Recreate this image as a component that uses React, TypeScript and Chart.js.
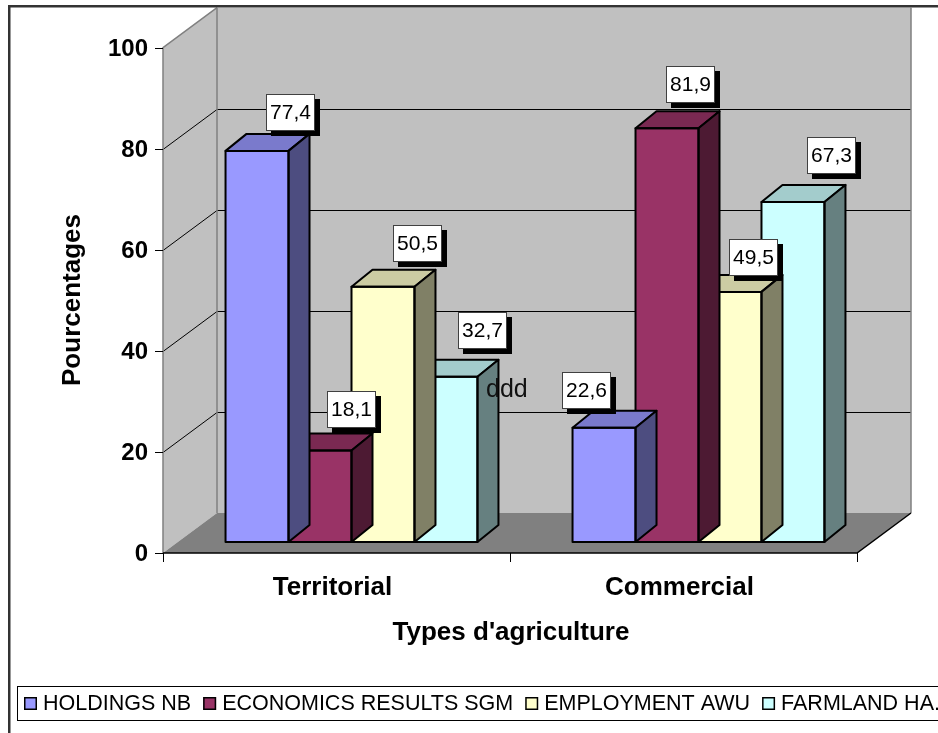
import React, { useEffect, useRef } from "react";
import { Chart, registerables } from "chart.js";

Chart.register(...registerables);

// ---- data ----
const CATEGORIES = ["Territorial", "Commercial"];
const SERIES_NAMES = ["HOLDINGS NB", "ECONOMICS RESULTS SGM", "EMPLOYMENT AWU", "FARMLAND HA."];
const HOLDINGS_NB = [77.4, 22.6];
const ECONOMICS_SGM = [18.1, 81.9];
const EMPLOYMENT_AWU = [50.5, 49.5];
const FARMLAND_HA = [32.7, 67.3];
const Y_TICKS = [0, 20, 40, 60, 80, 100];
const Y_TITLE = "Pourcentages";
const X_TITLE = "Types d'agriculture";
const NOTE_TEXT = "ddd";

// ---- layout / style ----
const W = 938;
const H = 733;
const FONT = '"Liberation Sans", Arial, Helvetica, sans-serif';
const PAD = { left: 163, right: W - 857, top: 47.7, bottom: H - 553 };
const WALL = { dx: 54, dy: -40 }; // depth of the floor / side wall
const BAR_SHIFT = { dx: 15, dy: -11 }; // plane the columns stand in
const BAR_DEPTH = { dx: 21, dy: -17 }; // thickness of each column
// label box offsets: [x from column centre, box bottom from column back-top]
const LABEL_NUDGE = [
  [[33.5, -3], [-17.5, -2]],
  [[31.5, -5.5], [23.5, -8]],
  [[35, -8], [23.5, 1]],
  [[36.5, -11], [38.5, -11]],
];
const FACES = [
  { front: "#9999FF", top: "#7A7ACC", side: "#4D4D80" },
  { front: "#993366", top: "#7A2952", side: "#4D1A33" },
  { front: "#FFFFCC", top: "#CCCCA3", side: "#808066" },
  { front: "#CCFFFF", top: "#A3CCCC", side: "#668080" },
];

const SERIES_VALUES = [HOLDINGS_NB, ECONOMICS_SGM, EMPLOYMENT_AWU, FARMLAND_HA];

function poly(ctx: CanvasRenderingContext2D, pts: number[][]) {
  ctx.beginPath();
  ctx.moveTo(pts[0][0], pts[0][1]);
  for (let i = 1; i < pts.length; i++) ctx.lineTo(pts[i][0], pts[i][1]);
  ctx.closePath();
}

function fmt(v: number) {
  return v.toFixed(1).replace(".", ",");
}

const scenePlugin = {
  id: "scene3d",
  beforeDraw(chart: any) {
    const { ctx, chartArea: a } = chart;
    const ys = chart.scales.y;
    const xs = chart.scales.x;
    ctx.save();
    ctx.fillStyle = "#ffffff";
    ctx.fillRect(0, 0, W, H);

    const bl = a.left + WALL.dx;
    const br = a.right + WALL.dx;
    const bt = a.top + WALL.dy;
    const bb = a.bottom + WALL.dy;

    // walls and floor
    ctx.fillStyle = "#C0C0C0";
    poly(ctx, [[a.left, a.top], [bl, bt], [bl, bb], [a.left, a.bottom]]);
    ctx.fill();
    ctx.fillRect(bl, bt, br - bl, bb - bt);
    ctx.fillStyle = "#808080";
    poly(ctx, [[a.left, a.bottom], [bl, bb], [br, bb], [a.right, a.bottom]]);
    ctx.fill();

    // gridlines on side wall and back wall
    ctx.strokeStyle = "#000000";
    ctx.lineWidth = 1;
    Y_TICKS.forEach((t) => {
      if (t === 0 || t === 100) return;
      const y = Math.round(ys.getPixelForValue(t)) + 0.5;
      ctx.beginPath();
      ctx.moveTo(a.left, y);
      ctx.lineTo(bl, y + WALL.dy);
      ctx.lineTo(br, y + WALL.dy);
      ctx.stroke();
    });

    // wall edges
    ctx.strokeStyle = "#808080";
    ctx.lineWidth = 1.5;
    ctx.beginPath();
    ctx.moveTo(a.left, a.bottom);
    ctx.lineTo(a.left, a.top);
    ctx.lineTo(bl, bt);
    ctx.moveTo(bl, bt);
    ctx.lineTo(bl, bb);
    ctx.moveTo(br, bt);
    ctx.lineTo(br, bb);
    ctx.stroke();

    // floor front edge and right edge
    ctx.strokeStyle = "#000000";
    ctx.lineWidth = 1.5;
    ctx.beginPath();
    ctx.moveTo(a.left, a.bottom);
    ctx.lineTo(a.right, a.bottom);
    ctx.lineTo(br, bb);
    ctx.stroke();

    // value axis ticks and labels
    ctx.lineWidth = 1;
    ctx.fillStyle = "#000000";
    ctx.font = `bold 24px ${FONT}`;
    ctx.textAlign = "right";
    ctx.textBaseline = "middle";
    Y_TICKS.forEach((t) => {
      const y = Math.round(ys.getPixelForValue(t)) + 0.5;
      ctx.beginPath();
      ctx.moveTo(a.left - 8, y);
      ctx.lineTo(a.left, y);
      ctx.stroke();
      ctx.fillText(String(t), a.left - 15, y + 1);
    });

    // category axis ticks and labels
    const edges = [a.left, (a.left + a.right) / 2, a.right];
    edges.forEach((x) => {
      const px = Math.round(x) + 0.5;
      ctx.beginPath();
      ctx.moveTo(px, a.bottom);
      ctx.lineTo(px, a.bottom + 9);
      ctx.stroke();
    });
    ctx.font = `bold 26px ${FONT}`;
    ctx.textAlign = "center";
    ctx.textBaseline = "alphabetic";
    CATEGORIES.forEach((c, i) => {
      ctx.fillText(c, xs.getPixelForValue(i) - 4, 595);
    });

    // axis titles
    ctx.fillText(X_TITLE, 511, 640);
    ctx.save();
    ctx.translate(80, 300);
    ctx.rotate(-Math.PI / 2);
    ctx.fillText(Y_TITLE, 0, 0);
    ctx.restore();

    // outer frame
    ctx.strokeStyle = "#333333";
    ctx.lineWidth = 2.5;
    ctx.beginPath();
    ctx.moveTo(9.25, H);
    ctx.lineTo(9.25, 6.25);
    ctx.lineTo(W, 6.25);
    ctx.stroke();

    // legend
    ctx.strokeStyle = "#000000";
    ctx.lineWidth = 1;
    ctx.strokeRect(17.5, 686.5, W, 34);
    ctx.font = `21.5px ${FONT}`;
    ctx.textAlign = "left";
    ctx.textBaseline = "middle";
    let lx = 24;
    SERIES_NAMES.forEach((name, i) => {
      ctx.fillStyle = FACES[i].front;
      ctx.fillRect(lx, 697, 13, 13);
      ctx.lineWidth = 1.5;
      ctx.strokeRect(lx + 0.75, 697.75, 11.5, 11.5);
      ctx.fillStyle = "#000000";
      ctx.fillText(name, lx + 19, 704);
      lx += 19 + ctx.measureText(name).width + 12;
    });
    ctx.restore();
  },
  beforeDatasetsDraw(chart: any) {
    chart.ctx.save();
    chart.ctx.translate(BAR_SHIFT.dx, BAR_SHIFT.dy);
  },
  afterDatasetDraw(chart: any, args: any) {
    const { ctx } = chart;
    const face = FACES[args.index];
    ctx.save();
    ctx.strokeStyle = "#000000";
    ctx.lineWidth = 2;
    ctx.lineJoin = "round";
    args.meta.data.forEach((el: any) => {
      const p = el.getProps(["x", "y", "base", "width"], true);
      const l = p.x - p.width / 2;
      const r = p.x + p.width / 2;
      const t = p.y;
      const b = p.base;
      // top face
      poly(ctx, [[l, t], [l + BAR_DEPTH.dx, t + BAR_DEPTH.dy], [r + BAR_DEPTH.dx, t + BAR_DEPTH.dy], [r, t]]);
      ctx.fillStyle = face.top;
      ctx.fill();
      ctx.stroke();
      // right side face
      poly(ctx, [[r, t], [r + BAR_DEPTH.dx, t + BAR_DEPTH.dy], [r + BAR_DEPTH.dx, b + BAR_DEPTH.dy], [r, b]]);
      ctx.fillStyle = face.side;
      ctx.fill();
      ctx.stroke();
      // front outline
      ctx.strokeRect(l, t, r - l, b - t);
    });
    ctx.restore();
  },
  afterDatasetsDraw(chart: any) {
    const { ctx } = chart;
    ctx.restore();
    ctx.save();
    ctx.font = `21px ${FONT}`;
    ctx.textAlign = "center";
    ctx.textBaseline = "middle";
    SERIES_VALUES.forEach((vals, i) => {
      const meta = chart.getDatasetMeta(i);
      meta.data.forEach((el: any, j: number) => {
        const p = el.getProps(["x", "y"], true);
        const text = fmt(vals[j]);
        const [nx, ny] = LABEL_NUDGE[i][j];
        const cx = p.x + BAR_SHIFT.dx + nx;
        const bottom = p.y + BAR_SHIFT.dy + BAR_DEPTH.dy + ny;
        const w = Math.round(ctx.measureText(text).width + 8);
        const h = 37;
        const bx = Math.round(cx - w / 2);
        const by = Math.round(bottom - h);
        ctx.fillStyle = "#000000";
        ctx.fillRect(bx + 5, by + 5, w, h);
        ctx.fillStyle = "#ffffff";
        ctx.fillRect(bx, by, w, h);
        ctx.strokeStyle = "#404040";
        ctx.lineWidth = 1;
        ctx.strokeRect(bx + 0.5, by + 0.5, w - 1, h - 1);
        ctx.fillStyle = "#000000";
        ctx.fillText(text, bx + w / 2, by + h / 2 + 1);
      });
    });
    // free text note placed on the plot
    ctx.font = `25px ${FONT}`;
    ctx.textAlign = "left";
    ctx.textBaseline = "alphabetic";
    ctx.fillStyle = "#111111";
    ctx.fillText(NOTE_TEXT, 486, 397);
    ctx.restore();
  },
};

export default function App() {
  const ref = useRef<HTMLCanvasElement>(null);
  useEffect(() => {
    if (!ref.current) return;
    const chart = new Chart(ref.current, {
      type: "bar",
      data: {
        labels: CATEGORIES,
        datasets: SERIES_VALUES.map((vals, i) => ({
          label: SERIES_NAMES[i],
          data: vals,
          backgroundColor: FACES[i].front,
          borderColor: "#000000",
          borderWidth: 0,
          borderSkipped: false,
          barPercentage: 1,
          categoryPercentage: 0.726,
          clip: false as any,
        })),
      },
      options: {
        responsive: false,
        animation: false,
        events: [],
        layout: { padding: PAD },
        scales: {
          x: { display: false, offset: true },
          y: { display: false, min: 0, max: 100 },
        },
        plugins: {
          legend: { display: false },
          tooltip: { enabled: false },
          title: { display: false },
        },
      },
      plugins: [scenePlugin],
    });
    return () => chart.destroy();
  }, []);
  return (
    <div style={{ position: "absolute", left: 0, top: 0, width: W, height: H }}>
      <canvas ref={ref} width={W} height={H} style={{ display: "block", width: W, height: H }} />
    </div>
  );
}
